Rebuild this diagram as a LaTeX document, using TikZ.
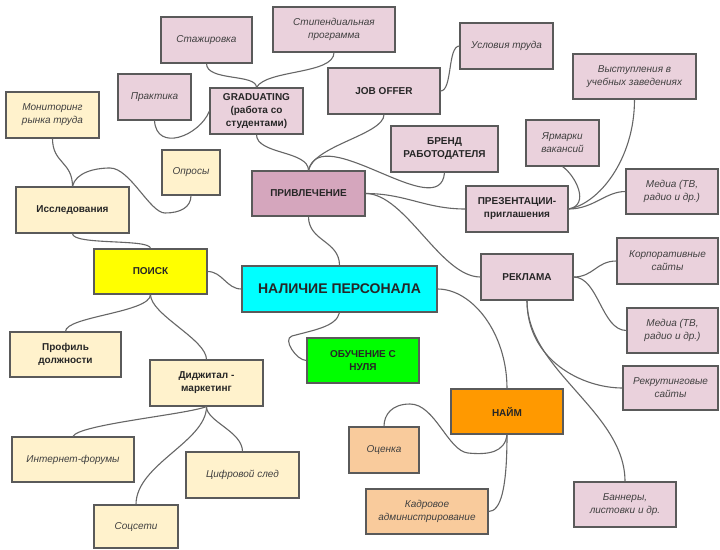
\documentclass[tikz,border=0pt]{standalone}
\usepackage{fontspec}
\setmainfont{Liberation Sans}
\definecolor{pinkL}{HTML}{EAD1DC}
\definecolor{pinkD}{HTML}{D5A6BD}
\definecolor{yelL}{HTML}{FFF2CC}
\definecolor{yelD}{HTML}{FFFF00}
\definecolor{cyanD}{HTML}{00FFFF}
\definecolor{greenD}{HTML}{00FF00}
\definecolor{orangeD}{HTML}{FF9900}
\definecolor{peach}{HTML}{F9CB9C}
\definecolor{boxline}{HTML}{5A5A5A}
\definecolor{conline}{HTML}{666666}
\newcommand\boxnode[7]{%
  \pgfmathsetmacro\bw{#4-#2}\pgfmathsetmacro\bh{#5-#3}%
  \node[#6, minimum width=\bw pt, minimum height=\bh pt] (#1) at ({(#2+#4)/2},{(#3+#5)/2}) {#7};}
\begin{document}
\begin{tikzpicture}[x=1pt,y=-1pt,
  box/.style={draw=boxline, line width=1.1pt, inner sep=0pt, align=center},
  bb/.style={box, font=\fontsize{10}{13}\selectfont\bfseries, text=black!85},
  it/.style={box, font=\fontsize{10}{13}\selectfont\itshape, text=black!75},
  conn/.style={draw=conline, line width=1.1pt}]
\useasboundingbox (0,0) rectangle (720,549);
\fill[white] (0,0) rectangle (720,549);
% boxes
\boxnode{stazh}{161}{17}{252}{63}{it, fill=pinkL}{Стажировка}
\boxnode{stip}{273}{7}{395}{52}{it, fill=pinkL}{Стипендиальная\\программа}
\boxnode{usl}{460}{23}{553}{69}{it, fill=pinkL}{Условия труда}
\boxnode{vyst}{573}{54}{696}{99}{it, fill=pinkL}{Выступления в\\учебных заведениях}
\boxnode{prakt}{118}{74}{191}{120}{it, fill=pinkL}{Практика}
\boxnode{grad}{210}{88}{303}{134}{bb, fill=pinkL}{GRADUATING\\(работа со\\студентами)}
\boxnode{job}{328}{68}{440}{114}{bb, fill=pinkL}{JOB OFFER}
\boxnode{brend}{391}{126}{498}{172}{bb, fill=pinkL}{БРЕНД\\РАБОТОДАТЕЛЯ}
\boxnode{yarm}{526}{120}{599}{166}{it, fill=pinkL}{Ярмарки\\вакансий}
\boxnode{monit}{6}{92}{99}{138}{it, fill=yelL}{Мониторинг\\рынка труда}
\boxnode{opros}{162}{150}{220}{195}{it, fill=yelL}{Опросы}
\boxnode{issl}{16}{187}{129}{233}{bb, fill=yelL}{Исследования}
\boxnode{privl}{252}{171}{365}{216}{bb, fill=pinkD}{ПРИВЛЕЧЕНИЕ}
\boxnode{prez}{466}{186}{568}{232}{bb, fill=pinkL}{ПРЕЗЕНТАЦИИ-\\приглашения}
\boxnode{media1}{626}{169}{718}{214}{it, fill=pinkL}{Медиа (ТВ,\\радио и др.)}
\boxnode{poisk}{94}{249}{207}{294}{bb, fill=yelD}{ПОИСК}
\boxnode{nal}{242}{266}{437}{312}{box, fill=cyanD, text=black!85, font=\fontsize{14}{16}\selectfont\bfseries}{НАЛИЧИЕ ПЕРСОНАЛА}
\boxnode{rekl}{481}{254}{573}{300}{bb, fill=pinkL}{РЕКЛАМА}
\boxnode{korp}{617}{238}{718}{284}{it, fill=pinkL}{Корпоративные\\сайты}
\boxnode{media2}{627}{308}{718}{353}{it, fill=pinkL}{Медиа (ТВ,\\радио и др.)}
\boxnode{rekr}{623}{366}{718}{410}{it, fill=pinkL}{Рекрутинговые\\сайты}
\boxnode{obuch}{307}{338}{419}{383}{bb, fill=greenD}{ОБУЧЕНИЕ С\\НУЛЯ}
\boxnode{prof}{10}{332}{121}{377}{bb, fill=yelL}{Профиль\\должности}
\boxnode{dig}{150}{360}{263}{406}{bb, fill=yelL}{Диджитал -\\маркетинг}
\boxnode{naim}{451}{389}{563}{434}{bb, fill=orangeD}{НАЙМ}
\boxnode{ocen}{349}{427}{419}{473}{it, fill=peach}{Оценка}
\boxnode{kadr}{366}{489}{488}{534}{it, fill=peach}{Кадровое\\администрирование}
\boxnode{bann}{574}{482}{676}{527}{it, fill=pinkL}{Баннеры,\\листовки и др.}
\boxnode{inet}{12}{437}{134}{482}{it, fill=yelL}{Интернет-форумы}
\boxnode{cifr}{186}{452}{299}{498}{it, fill=yelL}{Цифровой след}
\boxnode{socs}{94}{505}{178}{548}{it, fill=yelL}{Соцсети}
% connectors
\draw[conn] (stazh.south) .. controls +(0,18) and +(0,-14) .. (grad.north);
\draw[conn] (stip.south) .. controls +(0,22) and +(10,-18) .. (grad.north);
\draw[conn] (prakt.south) .. controls +(2,32) and +(-10,25) .. (grad.west);
\draw[conn] (grad.south) .. controls +(0,20) and +(0,-20) .. (privl.north);
\draw[conn] (job.south) .. controls +(0,20) and +(5,-25) .. (privl.north);
\draw[conn] (job.east) .. controls +(12,0) and +(-12,0) .. (usl.west);
\draw[conn] (privl.north) .. controls +(12,-51) and +(-4,53) .. (brend.south);
\draw[conn] (privl.east) .. controls +(40,0) and +(-40,0) .. (prez.west);
\draw[conn] (privl.east) .. controls +(40,0) and +(-40,0) .. (rekl.west);
\draw[conn] (privl.south) .. controls +(0,25) and +(0,-25) .. (nal.north);
\draw[conn] (prez.east) .. controls +(22,-4) and +(13,9) .. (yarm.south);
\draw[conn] (prez.east) .. controls +(30,-5) and +(0,60) .. (vyst.south);
\draw[conn] (prez.east) .. controls +(25,0) and +(-20,0) .. (media1.west);
\coordinate (oa) at (110,168);
\coordinate (ob) at (165,213);
\draw[conn] (issl.north) .. controls +(3,-14) and +(-15,0) .. (oa)
  .. controls +(20,0) and +(-15,0) .. (ob)
  .. controls +(15,0) and +(0,12) .. (opros.south);
\draw[conn] (monit.south) .. controls +(0,25) and +(0,-25) .. (issl.north);
\draw[conn] (issl.south) .. controls +(0,12) and +(0,-10) .. (poisk.north);
\draw[conn] (poisk.east) .. controls +(15,0) and +(-15,0) .. (nal.west);
\draw[conn] (poisk.south) .. controls +(0,18) and +(0,-15) .. (prof.north);
\draw[conn] (poisk.south) .. controls +(0,20) and +(0,-20) .. (dig.north);
\coordinate (na) at (292,336);
\draw[conn] (nal.south) .. controls +(-3,14) and +(22,-6) .. (na)
  .. controls +(-10,3) and +(-10,0) .. (obuch.west);
\draw[conn] (nal.east) .. controls +(35,0) and +(0,-55) .. (naim.north);
\coordinate (ha) at (468,453);
\coordinate (hb) at (410,404);
\draw[conn] (naim.south) .. controls +(-2,18) and +(20,2) .. (ha)
  .. controls +(-20,-2) and +(25,0) .. (hb)
  .. controls +(-18,0) and +(0,-12) .. (ocen.north);
\draw[conn] (naim.south) .. controls +(0,55) and +(12,0) .. (kadr.east);
\draw[conn] (rekl.east) .. controls +(20,0) and +(-20,0) .. (korp.west);
\draw[conn] (rekl.east) .. controls +(25,0) and +(-25,0) .. (media2.west);
\draw[conn] (rekl.south) .. controls +(0,60) and +(-40,0) .. (rekr.west);
\draw[conn] (rekl.south) .. controls +(0,70) and +(0,-70) .. (bann.north);
\draw[conn] (dig.south) .. controls +(-20,8) and +(5,-12) .. (inet.north);
\draw[conn] (dig.south) .. controls +(0,35) and +(0,-40) .. (socs.north);
\draw[conn] (dig.south) .. controls +(0,15) and +(0,-20) .. (cifr.north);
\end{tikzpicture}
\end{document}
